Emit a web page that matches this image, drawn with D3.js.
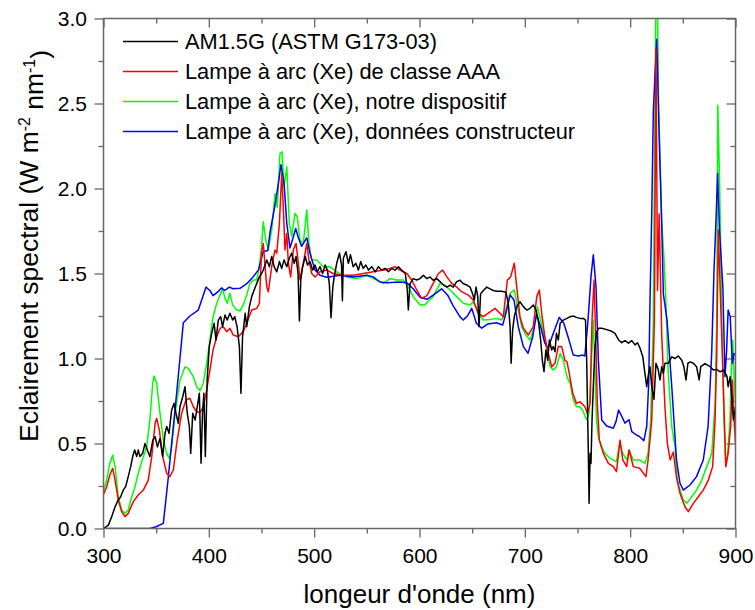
<!DOCTYPE html>
<html><head><meta charset="utf-8">
<script src="https://cdn.jsdelivr.net/npm/d3@7"></script>
<style>
body{margin:0;background:#fff;}
svg{display:block;font-family:"Liberation Sans",Arial,sans-serif;}
</style></head>
<body><svg id="c" width="755" height="610"></svg>
<script>
const xTickValues=[300,400,500,600,700,800,900];
const xMinorValues=[350,450,550,650,750,850];
const yTickValues=[0,0.5,1.0,1.5,2.0,2.5,3.0];
const yMinorValues=[0.25,0.75,1.25,1.75,2.25,2.75];
const xTickLabels=["300","400","500","600","700","800","900"];
const yTickLabels=["0.0","0.5","1.0","1.5","2.0","2.5","3.0"];
const seriesNames=["AM1.5G (ASTM G173-03)","Lampe à arc (Xe) de classe AAA","Lampe à arc (Xe), notre dispositif","Lampe à arc (Xe), données constructeur"];
const seriesColors=["#000000","#ff0000","#00ff00","#0000ff"];

const am15g=[[300,0.0],[304.6,0.02],[307.8,0.07],[311,0.128],[314,0.168],[316.3,0.187],[318.8,0.226],[321,0.246],[323.5,0.305],[325.8,0.364],[327.7,0.423],[329.6,0.462],[331.5,0.423],[333,0.462],[334.6,0.423],[337.2,0.442],[339.4,0.50],[341.6,0.462],[344,0.423],[346.8,0.52],[349,0.54],[351.2,0.48],[353.6,0.53],[356.2,0.423],[358.4,0.56],[360,0.60],[362.2,0.56],[364.7,0.697],[367,0.736],[368.8,0.678],[371,0.619],[372.6,0.716],[375.2,0.775],[377.4,0.834],[379.5,0.678],[381.5,0.60],[382.8,0.442],[384.7,0.678],[387,0.638],[389,0.716],[391,0.795],[392.6,0.384],[394,0.678],[395.3,0.795],[396.7,0.423],[398.4,0.874],[400.4,1.07],[402.7,1.148],[405,1.207],[406.8,1.109],[409,1.226],[411.2,1.246],[413,1.187],[415.4,1.256],[417.5,1.226],[420,1.266],[422.6,1.226],[424.6,1.246],[426.8,1.187],[429,1.07],[430.5,0.795],[432,1.128],[434.5,1.266],[436,1.187],[438.5,1.305],[440.7,1.364],[443,1.403],[445.5,1.442],[448,1.48],[450,1.50],[451.7,1.52],[455,1.58],[457.5,1.54],[459.7,1.60],[462,1.54],[464.5,1.51],[467,1.57],[469.2,1.53],[471.4,1.58],[474,1.54],[476.4,1.59],[478.7,1.62],[481,1.56],[482.8,1.60],[484.7,1.50],[486,1.22],[487.3,1.462],[489,1.54],[491.5,1.60],[493.7,1.55],[496,1.57],[498.6,1.52],[500.8,1.55],[503,1.51],[505.5,1.54],[508,1.50],[510.4,1.55],[512.5,1.52],[514.4,1.44],[516,1.24],[517.7,1.42],[519,1.48],[521.4,1.56],[524,1.62],[526,1.55],[526.8,1.34],[527.7,1.59],[530.2,1.628],[532.5,1.56],[534.5,1.61],[537,1.54],[539.6,1.56],[542,1.52],[544.2,1.57],[546.6,1.53],[549,1.55],[551.6,1.52],[554.7,1.54],[558,1.51],[561,1.54],[564,1.52],[567.3,1.53],[570.5,1.51],[573.5,1.53],[576.8,1.52],[580,1.54],[583,1.52],[586.5,1.50],[588.4,1.403],[589.4,1.285],[591,1.44],[594,1.47],[597.4,1.462],[600.5,1.47],[603.7,1.49],[607,1.47],[610,1.48],[613,1.46],[616.4,1.47],[619.5,1.452],[622.7,1.432],[626,1.42],[629,1.432],[632,1.42],[635.3,1.452],[638.5,1.46],[641.6,1.44],[645,1.432],[648,1.42],[650.5,1.38],[652,1.344],[653.7,1.42],[655.3,1.364],[656.5,1.187],[658,1.38],[660.6,1.40],[663.8,1.42],[667,1.41],[670,1.40],[673.3,1.395],[678,1.395],[682,1.39],[684.3,1.325],[686,1.187],[687,0.972],[688.4,1.168],[690,1.246],[692.3,1.305],[695.4,1.334],[698.6,1.305],[701.8,1.285],[705,1.295],[708,1.315],[710.6,1.285],[712.8,1.226],[715,1.109],[716.6,0.99],[718.2,0.922],[720,1.05],[721.7,0.99],[723.3,1.109],[725.5,1.05],[727,1.07],[728.7,1.04],[730,1.148],[731.8,1.109],[733.5,1.207],[736.5,1.226],[740,1.236],[743,1.246],[746,1.25],[749,1.242],[752.4,1.236],[755.5,1.236],[757.6,1.226],[758.7,0.99],[760.3,0.442],[761,0.148],[762,0.442],[762.8,0.383],[763.8,0.638],[765,0.834],[766.6,1.07],[768,1.148],[769.8,1.178],[773,1.178],[777.7,1.17],[782.5,1.16],[785.6,1.148],[789,1.109],[792,1.093],[795,1.105],[798.4,1.09],[801.5,1.105],[804.6,1.08],[807,1.093],[809.4,1.06],[812,1.01],[814,0.913],[815.7,0.834],[817,0.893],[818.8,0.952],[820.5,0.834],[822.6,0.76],[824.5,0.972],[826.7,0.932],[828.3,0.874],[830,0.952],[831.5,0.913],[833,0.972],[836,0.972],[839.5,1.01],[842.6,1.0],[845.7,1.015],[849,0.99],[851,0.952],[853,0.874],[854.8,0.972],[857,0.98],[860,0.972],[863,0.952],[865.5,0.874],[867,0.952],[871,0.97],[876,0.952],[879,0.932],[882,0.936],[885.5,0.922],[888.6,0.932],[892,0.893],[893,0.834],[895,0.893],[896.4,0.775],[898,0.638],[900,0.716]];

const lampeAAA=[[300,0.20],[303,0.246],[306,0.315],[308.7,0.354],[311,0.285],[314,0.168],[317.3,0.099],[320.4,0.07],[323.5,0.089],[328.3,0.158],[333,0.197],[337.8,0.226],[342.5,0.285],[345.8,0.423],[349,0.619],[350.5,0.648],[353,0.58],[356.2,0.423],[360,0.325],[363,0.305],[366.3,0.344],[369.5,0.50],[374.2,0.678],[378.3,0.756],[382,0.766],[385.3,0.716],[388.5,0.687],[391.6,0.681],[394.7,0.716],[398,0.815],[401,0.932],[404,1.05],[407.5,1.128],[410.6,1.177],[413.7,1.187],[417,1.158],[420,1.177],[423.2,1.138],[428,1.128],[432.7,1.158],[436,1.207],[440.7,1.285],[445.5,1.295],[448,1.325],[450,1.62],[451.7,1.677],[455,1.42],[456.5,1.393],[459.7,1.54],[462.8,1.638],[464.5,1.62],[467,1.795],[469.2,2.09],[470.7,1.893],[472.3,1.638],[474,1.736],[475.5,1.56],[477.7,1.48],[480.2,1.638],[482.8,1.677],[485,1.56],[486.5,1.462],[489.7,1.56],[493,1.677],[495,1.58],[497.7,1.50],[500.8,1.48],[505.5,1.51],[512,1.52],[518,1.50],[527.7,1.49],[537,1.49],[546.6,1.50],[556,1.51],[565.7,1.52],[572,1.53],[576.8,1.54],[581.5,1.52],[588,1.50],[592.6,1.462],[597.4,1.403],[602,1.354],[607,1.37],[613,1.442],[618,1.50],[622,1.52],[626,1.48],[630.6,1.442],[635.3,1.42],[640,1.393],[646.3,1.373],[651,1.344],[655.8,1.266],[660.6,1.246],[665,1.266],[671.7,1.295],[676.4,1.266],[679.6,1.246],[683.4,1.462],[686.5,1.48],[690,1.56],[692.3,1.42],[695.4,1.246],[698.6,1.178],[703.3,1.138],[708,1.187],[711.3,1.364],[713.8,1.403],[716,1.266],[719,1.128],[722.3,1.03],[725.5,0.952],[728.6,0.972],[731.8,1.07],[735,1.07],[738,0.99],[740,0.98],[742.2,0.913],[745.5,0.795],[749,0.736],[752.4,0.746],[757,0.716],[759.3,0.678],[762,0.736],[763.8,1.226],[765.7,1.462],[767.3,1.128],[768.8,0.736],[770.7,0.52],[774.5,0.442],[779.3,0.383],[784,0.364],[787,0.334],[790.4,0.52],[793,0.403],[796.7,0.364],[799,0.462],[803,0.364],[809,0.354],[815,0.305],[817,0.403],[820.5,0.638],[823,1.226],[824.5,2.82],[826,1.40],[827.5,1.85],[830,1.128],[833,0.716],[835.3,0.50],[838,0.403],[841,0.45],[844,0.30],[847.3,0.207],[852,0.128],[855.2,0.099],[860,0.148],[864.7,0.187],[869.4,0.226],[874.2,0.285],[878.3,0.364],[880.6,0.638],[882.2,1.03],[883.7,1.756],[885.5,1.4],[888,0.93],[890.8,0.364],[893,0.442],[895.4,0.6],[897,0.874],[899,0.6],[900,0.50]];

const lampeNotre=[[300,0.22],[303,0.285],[306,0.384],[308.7,0.432],[311,0.364],[314,0.187],[317.3,0.109],[320.4,0.089],[323.5,0.109],[326.8,0.187],[330,0.246],[333,0.325],[336.3,0.393],[341,0.48],[344,0.638],[346.7,0.854],[348,0.897],[350.5,0.854],[353.6,0.678],[356.8,0.52],[360,0.442],[362.5,0.413],[364.7,0.48],[368,0.678],[372.6,0.874],[377.4,0.952],[380.5,0.942],[385.3,0.893],[388.5,0.834],[391.6,0.81],[394.7,0.854],[398,0.972],[401,1.109],[404,1.246],[407.5,1.325],[410.6,1.373],[413,1.413],[415.4,1.354],[417.5,1.325],[420,1.383],[422.6,1.315],[426.5,1.285],[429.6,1.28],[432.7,1.315],[436,1.373],[439,1.442],[442,1.462],[445.5,1.462],[448,1.54],[450,1.658],[451.7,1.805],[454,1.70],[456.5,1.64],[459.7,1.756],[462.8,1.97],[465,1.89],[467.6,2.207],[469.5,2.216],[471.4,2.01],[474,2.128],[476.4,1.795],[478.7,1.717],[481.8,1.854],[484,1.834],[486.5,1.697],[489.7,1.677],[493,1.874],[495,1.677],[497.7,1.58],[502.4,1.58],[508.7,1.54],[515,1.54],[521.4,1.51],[531,1.48],[540.4,1.47],[550,1.49],[559.4,1.462],[565.7,1.442],[572,1.47],[578.4,1.462],[584.6,1.462],[589.4,1.42],[594,1.364],[600.5,1.315],[605,1.315],[608,1.335],[613,1.364],[619.5,1.442],[624,1.432],[629,1.403],[635.3,1.364],[641.6,1.325],[648,1.315],[651,1.334],[655.8,1.266],[660.6,1.226],[667,1.23],[673.3,1.236],[678,1.226],[682,1.285],[686,1.383],[690,1.403],[693,1.305],[697,1.187],[701,1.138],[705,1.109],[708,1.168],[712,1.305],[715,1.226],[719,1.109],[724,0.952],[727,0.932],[730,0.952],[733.5,1.03],[736.5,0.99],[740,0.893],[743,0.854],[746,0.756],[749,0.716],[752.4,0.716],[755.5,0.687],[758.7,0.638],[761,0.678],[763.5,1.03],[765,1.226],[766.6,0.93],[768,0.638],[769.8,0.54],[773,0.48],[776,0.442],[781,0.413],[787,0.393],[790,0.50],[793,0.442],[796.7,0.403],[799,0.462],[803,0.403],[809,0.403],[814,0.383],[817,0.442],[819.5,0.638],[822,1.226],[823.5,2.5],[824.5,3.15],[825.8,3.15],[827,2.5],[828.3,2.197],[830,1.8],[832,1.6],[834,1.325],[836,0.93],[839.5,0.6],[842.6,0.48],[844.8,0.285],[847.3,0.226],[850.5,0.168],[853.7,0.148],[858.4,0.187],[863,0.226],[868,0.285],[872.7,0.364],[877.5,0.442],[880.6,0.736],[882.2,1.226],[883.2,2.49],[884.8,2.07],[887,1.226],[889,0.638],[890.8,0.364],[892.6,0.442],[894.8,0.638],[896.4,1.03],[897.4,1.109],[899,0.834],[900,0.75]];

const lampeConstructeur=[[300,0],[344,0],[350,0.01],[356.8,0.03],[361.5,0.30],[369.5,0.80],[375.8,1.21],[382,1.25],[390,1.285],[393,1.34],[397.3,1.42],[401,1.40],[404,1.37],[409,1.395],[412,1.415],[415,1.40],[419.5,1.42],[423,1.41],[429.6,1.413],[436,1.44],[442,1.48],[447,1.52],[451.7,1.63],[456,1.635],[458,1.74],[462.8,1.90],[466,2.03],[468.5,2.14],[471.4,2.03],[474,1.795],[477,1.65],[480,1.71],[482.5,1.765],[485,1.71],[488,1.66],[493,1.71],[496,1.62],[500.8,1.52],[505.5,1.49],[512,1.478],[524.5,1.49],[537,1.48],[550,1.49],[556,1.48],[562.5,1.45],[569,1.445],[581.5,1.45],[588,1.445],[594,1.41],[600.5,1.36],[607,1.348],[613,1.373],[621,1.41],[627,1.37],[632,1.31],[638.5,1.245],[641.6,1.226],[646,1.255],[649.6,1.295],[654,1.207],[659,1.178],[665,1.203],[673,1.21],[679,1.197],[682,1.266],[686,1.373],[689.7,1.344],[693.8,1.187],[698.6,1.07],[703,1.03],[707.5,1.128],[711,1.256],[715,1.187],[719,1.09],[722,1.06],[727,1.148],[732.7,1.242],[737,1.207],[741,1.128],[746,1.02],[750.8,1.015],[755,1.02],[757,1.015],[760,1.226],[762.8,1.48],[765,1.61],[767.6,1.42],[769.8,0.99],[773,0.638],[777.7,0.603],[784,0.59],[786.6,0.63],[789,0.697],[792,0.66],[795,0.62],[799,0.64],[801.5,0.57],[806,0.55],[809,0.54],[813,0.517],[815.7,0.6],[817.6,0.854],[818.8,1.325],[820.5,1.85],[822,2.46],[825.2,2.878],[827.7,2.27],[830,1.775],[831.5,1.38],[835,1.226],[839.5,0.834],[844,0.403],[847.3,0.266],[850.5,0.226],[856.8,0.256],[863,0.305],[869.4,0.403],[874,0.6],[877.4,1.03],[879.6,1.52],[881.5,1.815],[883,2.09],[884.8,1.756],[888,1.42],[890,0.893],[891.6,1.05],[893,1.285],[895,1.246],[897,0.97],[898.6,1.03],[900,1.02]];

const svg=d3.select("#c");
const X0=103.5,X1=735.5,Y0=528.5,Y1=18.5;
const x=d3.scaleLinear().domain([300,900]).range([X0,X1]);
const y=d3.scaleLinear().domain([0,3]).range([Y0,Y1]);
const axisColor="#666";

svg.append("defs").append("clipPath").attr("id","clip")
  .append("rect").attr("x",X0).attr("y",Y1).attr("width",X1-X0).attr("height",Y0-Y1);

function styleAxis(g){
  g.select(".domain").remove();
  g.selectAll(".tick line").attr("stroke",axisColor).attr("stroke-width",1.3);
  g.selectAll(".tick text").attr("fill","#000").attr("font-size","21px").attr("font-family","'Liberation Sans',Arial,sans-serif");
}
svg.append("g").attr("transform",`translate(0,${Y0})`)
  .call(d3.axisBottom(x).tickValues(xTickValues).tickSize(9).tickPadding(10.5).tickFormat((d,i)=>xTickLabels[i])).call(styleAxis);
svg.append("g").attr("transform",`translate(0,${Y0})`)
  .call(d3.axisBottom(x).tickValues(xMinorValues).tickSize(5).tickFormat("")).call(styleAxis);
svg.append("g").attr("transform",`translate(${X0},0)`)
  .call(d3.axisLeft(y).tickValues(yTickValues).tickSize(9).tickPadding(7.5).tickFormat((d,i)=>yTickLabels[i])).call(styleAxis);
svg.append("g").attr("transform",`translate(${X0},0)`)
  .call(d3.axisLeft(y).tickValues(yMinorValues).tickSize(5).tickFormat("")).call(styleAxis);
svg.append("g").attr("transform",`translate(0,${Y1})`)
  .call(d3.axisTop(x).tickValues(xTickValues).tickSize(-9).tickFormat("")).call(styleAxis);
svg.append("g").attr("transform",`translate(0,${Y1})`)
  .call(d3.axisTop(x).tickValues(xMinorValues).tickSize(-5).tickFormat("")).call(styleAxis);
svg.append("g").attr("transform",`translate(${X1},0)`)
  .call(d3.axisRight(y).tickValues(yTickValues).tickSize(-9).tickFormat("")).call(styleAxis);
svg.append("g").attr("transform",`translate(${X1},0)`)
  .call(d3.axisRight(y).tickValues(yMinorValues).tickSize(-5).tickFormat("")).call(styleAxis);

const line=d3.line().x(d=>x(d[0])).y(d=>y(d[1]));
const plotG=svg.append("g").attr("clip-path","url(#clip)");
const drawOrder=[[lampeNotre,2],[lampeConstructeur,3],[lampeAAA,1],[am15g,0]];
drawOrder.forEach(([data,ci])=>{
  plotG.append("path").datum(data).attr("d",line)
    .attr("fill","none").attr("stroke",seriesColors[ci]).attr("stroke-width",1.5).attr("stroke-linejoin","round");
});

svg.append("rect").attr("x",X0).attr("y",Y1).attr("width",X1-X0).attr("height",Y0-Y1)
  .attr("fill","none").attr("stroke",axisColor).attr("stroke-width",1.5);

const legendRows=[41.5,71.5,101.5,131.5];
seriesNames.forEach((name,i)=>{
  svg.append("line").attr("x1",123).attr("x2",178).attr("y1",legendRows[i]).attr("y2",legendRows[i])
    .attr("stroke",seriesColors[i]).attr("stroke-width",1.5);
  svg.append("text").attr("x",185).attr("y",legendRows[i]+7.8).attr("font-size","21.8px").attr("fill","#000").text(name);
});

svg.append("text").attr("x",(X0+X1)/2).attr("y",603).attr("text-anchor","middle").attr("font-size","26px").attr("fill","#000")
  .text("longeur d'onde (nm)");
const yt=svg.append("text").attr("transform","translate(38,246) rotate(-90)").attr("text-anchor","middle").attr("font-size","26.5px").attr("fill","#000");
yt.append("tspan").text("Eclairement spectral (W m");
yt.append("tspan").attr("dy","-0.5em").attr("font-size","0.6em").text("-2");
yt.append("tspan").attr("dy","0.5em").text(" nm");
yt.append("tspan").attr("dy","-0.5em").attr("font-size","0.6em").text("-1");
yt.append("tspan").attr("dy","0.5em").text(")");
</script></body></html>
